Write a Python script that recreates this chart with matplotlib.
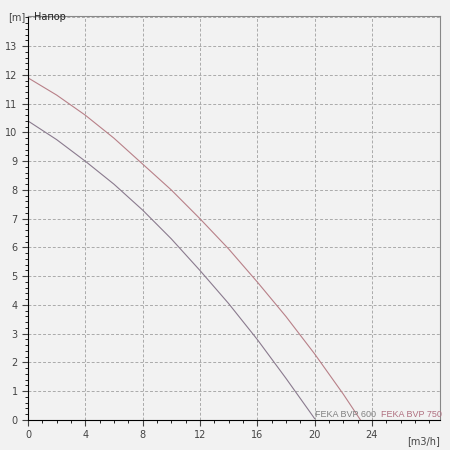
import matplotlib.pyplot as plt
from matplotlib.ticker import MultipleLocator

q1 = [0, 2, 4, 6, 8, 10, 12, 14, 16, 18, 20]
h1 = [10.4, 9.75, 9.0, 8.2, 7.3, 6.3, 5.2, 4.05, 2.8, 1.45, 0.05]
q2 = [0, 2, 4, 6, 8, 10, 12, 14, 16, 18, 20, 22, 23.2]
h2 = [11.9, 11.3, 10.6, 9.8, 8.9, 8.0, 7.0, 5.95, 4.8, 3.6, 2.3, 0.9, 0.0]
names = ["FEKA BVP 600", "FEKA BVP 750"]

fig = plt.figure(figsize=(4.5, 4.5), dpi=100)
fig.patch.set_facecolor('#f2f2f2')
ax = fig.add_axes([28/450, 30/450, 412/450, 404/450])
ax.set_facecolor('#f2f2f2')
ax.plot(q1, h1, color='#8a7a8e', lw=0.8)
ax.plot(q2, h2, color='#b88088', lw=0.8)
ax.text(20, 0.1, names[0], color='#808080', fontsize=6.5, family='Liberation Sans')
ax.text(24.6, 0.1, names[1], color='#b07080', fontsize=6.5, family='Liberation Sans')
ax.set_xlim(0, 28.75)
ax.set_ylim(0, 14.05)
ax.xaxis.set_minor_locator(MultipleLocator(1))
ax.yaxis.set_minor_locator(MultipleLocator(0.2))
ax.set_xticks([0, 4, 8, 12, 16, 20, 24])
ax.set_yticks(range(0, 14))
ax.axhline(14, ls=(0, (3, 2)), color='#aaaaaa', lw=0.7)
ax.grid(True, which='major', ls=(0, (3, 2)), color='#aaaaaa', lw=0.7)
for s in ['top', 'right']:
    ax.spines[s].set_color('#888888')
ax.tick_params(labelsize=7, colors='#444444', length=4)
ax.tick_params(which='minor', length=2)
ax.text(-0.2, 14.0, '[m]', ha='right', va='center', fontsize=7, color='#444444')
ax.text(0.4, 14.0, 'Напор', ha='left', va='center', fontsize=7, color='#222222')
ax.text(27.6, -0.55, '[m3/h]', ha='center', va='top', fontsize=7, color='#444444')
fig.savefig('out.png')
